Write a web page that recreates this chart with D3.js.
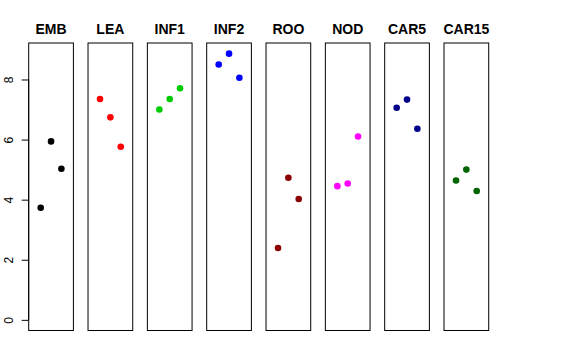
<!DOCTYPE html>
<html>
<head>
<meta charset="utf-8">
<script src="https://cdn.jsdelivr.net/npm/d3@7"></script>
<style>
  body { margin: 0; background: #fff; }
  svg { display: block; font-family: "Liberation Sans", Arial, sans-serif; }
</style>
</head>
<body>
<div id="chart"></div>
<script>
// panel names, colours and the three values per panel
const groups = ['EMB', 'LEA', 'INF1', 'INF2', 'ROO', 'NOD', 'CAR5', 'CAR15']
const colors = ['#000000', '#ff0000', '#00cd00', '#0000ff', '#8b0000', '#ff00ff', '#00008b', '#006400']
const EMB = [3.73, 5.94, 5.03]
const LEA = [7.35, 6.74, 5.76]
const INF1 = [7.00, 7.35, 7.71]
const INF2 = [8.50, 8.86, 8.06]
const ROO = [2.39, 4.73, 4.02]
const NOD = [4.45, 4.54, 6.10]
const CAR5 = [7.06, 7.33, 6.36]
const CAR15 = [4.64, 5.00, 4.29]
const values = [EMB, LEA, INF1, INF2, ROO, NOD, CAR5, CAR15]
const yTicks = [0, 2, 4, 6, 8]

const width = 576
const height = 360

const svg = d3.select('#chart').append('svg')
  .attr('width', width)
  .attr('height', height)

// R style ranges: ylim = c(0, max), xlim = c(0, 4), both padded by 4%
const yMax = d3.max(values.flat())
const yScale = d3.scaleLinear()
  .domain([-0.04 * yMax, yMax * 1.04])
  .range([330.5, 43])

const panelLeft = 28.7
const panelStep = 59.33
const panelWidth = 44.7

const xScale = d3.scaleLinear()
  .domain([-0.16, 4.16])
  .range([0, panelWidth])

groups.forEach((name, i) => {
  const g = svg.append('g')
    .attr('transform', `translate(${panelLeft + i * panelStep}, 0)`)

  g.append('rect')
    .attr('x', 0)
    .attr('y', yScale.range()[1])
    .attr('width', panelWidth)
    .attr('height', yScale.range()[0] - yScale.range()[1])
    .attr('fill', 'none')
    .attr('stroke', '#000')
    .attr('stroke-width', 1)

  g.append('text')
    .attr('x', panelWidth / 2)
    .attr('y', 34)
    .attr('text-anchor', 'middle')
    .attr('font-weight', 'bold')
    .attr('font-size', '14px')
    .text(name)

  g.selectAll('circle')
    .data(values[i])
    .enter()
    .append('circle')
    .attr('cx', (d, j) => xScale(j + 1))
    .attr('cy', (d) => yScale(d))
    .attr('r', 3.3)
    .attr('fill', colors[i])
})

// y axis only on first panel
const yAxis = d3.axisLeft(yScale)
  .tickValues(yTicks)
  .tickSize(7)
  .tickSizeOuter(0)
  .tickFormat(d3.format('d'))

const axisG = svg.append('g')
  .attr('transform', `translate(${panelLeft}, 0)`)
  .call(yAxis)

axisG.select('.domain')
  .attr('d', `M0,${yScale(0)}V${yScale(8)}`)
  .attr('stroke', '#000')

axisG.selectAll('.tick line').attr('stroke', '#000')
axisG.selectAll('.tick text')
  .attr('transform', 'rotate(-90)')
  .attr('x', 0)
  .attr('y', -16.2)
  .attr('dy', 0)
  .attr('text-anchor', 'middle')
  .attr('font-size', '12px')
  .attr('font-family', '"Liberation Sans", Arial, sans-serif')
  .attr('fill', '#000')
</script>
</body>
</html>
